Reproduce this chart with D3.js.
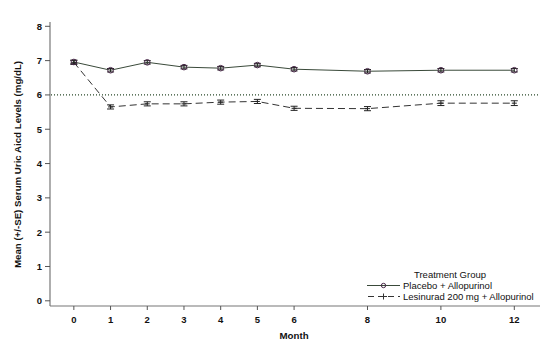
<!DOCTYPE html>
<html><head><meta charset="utf-8">
<script src="https://cdn.jsdelivr.net/npm/d3@7"></script>
<style>body{margin:0;background:#fff}svg{display:block;font-family:"Liberation Sans",Arial,sans-serif}</style>
</head><body>
<svg id="c" width="551" height="355"></svg>
<script>
const months = [0,1,2,3,4,5,6,8,10,12];
const placebo = [6.96,6.72,6.95,6.81,6.78,6.87,6.75,6.69,6.72,6.72];
const placeboSE = [0.05,0.05,0.05,0.05,0.05,0.05,0.05,0.05,0.05,0.05];
const lesinurad = [6.95,5.65,5.74,5.74,5.79,5.81,5.61,5.60,5.76,5.76];
const lesinuradSE = [0.06,0.06,0.06,0.06,0.06,0.06,0.06,0.06,0.07,0.07];
const xTicks = [0,1,2,3,4,5,6,8,10,12];
const yTicks = [0,1,2,3,4,5,6,7,8];
const refLine = 6;
const legendLabels = ["Placebo + Allopurinol","Lesinurad 200 mg + Allopurinol"];

const svg = d3.select("#c");
const x = d3.scaleLinear().domain([-0.65,12.7]).range([50,540]);
const y = d3.scaleLinear().domain([0,8]).range([300.8,26.3]);
const yBottom = 306, yTop = 22;

// axes
svg.append("line").attr("x1",50).attr("x2",50).attr("y1",yTop).attr("y2",yBottom).attr("stroke","#777").attr("stroke-width",1.2);
svg.append("line").attr("x1",50).attr("x2",540).attr("y1",yBottom).attr("y2",yBottom).attr("stroke","#777").attr("stroke-width",1.2);
yTicks.forEach(t=>{
  svg.append("line").attr("x1",45).attr("x2",50).attr("y1",y(t)).attr("y2",y(t)).attr("stroke","#555");
  svg.append("text").attr("x",42).attr("y",y(t)+3.5).attr("text-anchor","end").attr("font-size",9.5).attr("font-weight","bold").attr("fill","#111").text(t);
});
xTicks.forEach(t=>{
  svg.append("line").attr("x1",x(t)).attr("x2",x(t)).attr("y1",yBottom).attr("y2",yBottom+4).attr("stroke","#555");
  svg.append("text").attr("x",x(t)).attr("y",322.5).attr("text-anchor","middle").attr("font-size",9.5).attr("font-weight","bold").attr("fill","#111").text(t);
});
svg.append("text").attr("x",x(6)).attr("y",339).attr("text-anchor","middle").attr("font-size",9.7).attr("font-weight","bold").attr("fill","#111").text("Month");
svg.append("text").attr("transform",`translate(21,164.5) rotate(-90)`).attr("text-anchor","middle").attr("font-size",9.7).attr("font-weight","bold").attr("fill","#111").text("Mean (+/-SE) Serum Uric Aicd Levels (mg/dL)");

// reference line
svg.append("line").attr("x1",51).attr("x2",540).attr("y1",y(refLine)).attr("y2",y(refLine)).attr("stroke","#2a4a2a").attr("stroke-width",1.2).attr("stroke-dasharray","1,2");

const line = d3.line().x(d=>x(d[0])).y(d=>y(d[1]));
const dP = months.map((m,i)=>[m,placebo[i]]);
const dL = months.map((m,i)=>[m,lesinurad[i]]);
svg.append("path").attr("d",line(dP)).attr("fill","none").attr("stroke","#3a4a3a").attr("stroke-width",1);
svg.append("path").attr("d",line(dL)).attr("fill","none").attr("stroke","#333").attr("stroke-width",1).attr("stroke-dasharray","7,4");

function errs(vals,se,col){
  months.forEach((m,i)=>{
    const cx=x(m), y1=y(vals[i]+se[i]), y2=y(vals[i]-se[i]);
    svg.append("line").attr("x1",cx).attr("x2",cx).attr("y1",y1).attr("y2",y2).attr("stroke",col);
    svg.append("line").attr("x1",cx-3.5).attr("x2",cx+3.5).attr("y1",y1).attr("y2",y1).attr("stroke",col);
    svg.append("line").attr("x1",cx-3.5).attr("x2",cx+3.5).attr("y1",y2).attr("y2",y2).attr("stroke",col);
  });
}
errs(lesinurad,lesinuradSE,"#222");
errs(placebo,placeboSE,"#222");
months.forEach((m,i)=>{
  svg.append("circle").attr("cx",x(m)).attr("cy",y(placebo[i])).attr("r",2.8).attr("fill","none").attr("stroke","#4a2a4a").attr("stroke-width",1);
});
months.forEach((m,i)=>{
  svg.append("line").attr("x1",x(m)-2.5).attr("x2",x(m)+2.5).attr("y1",y(lesinurad[i])).attr("y2",y(lesinurad[i])).attr("stroke","#222");
});

// legend
svg.append("text").attr("x",450).attr("y",278).attr("text-anchor","middle").attr("font-size",9.5).attr("fill","#111").text("Treatment Group");
svg.append("line").attr("x1",367).attr("x2",400).attr("y1",285.5).attr("y2",285.5).attr("stroke","#3a4a3a");
svg.append("circle").attr("cx",383.5).attr("cy",285.5).attr("r",2.2).attr("fill","none").attr("stroke","#4a2a4a");
svg.append("text").attr("x",403).attr("y",289).attr("font-size",9.5).attr("fill","#111").text(legendLabels[0]);
svg.append("line").attr("x1",367).attr("x2",400).attr("y1",296.5).attr("y2",296.5).attr("stroke","#333").attr("stroke-dasharray","6,4").attr("stroke-dashoffset",-1);
svg.append("line").attr("x1",383.5).attr("x2",383.5).attr("y1",293.5).attr("y2",299.5).attr("stroke","#333");
svg.append("line").attr("x1",380).attr("x2",387).attr("y1",296.5).attr("y2",296.5).attr("stroke","#333");
svg.append("text").attr("x",403).attr("y",300).attr("font-size",9.5).attr("fill","#111").text(legendLabels[1]);
</script>
</body></html>
